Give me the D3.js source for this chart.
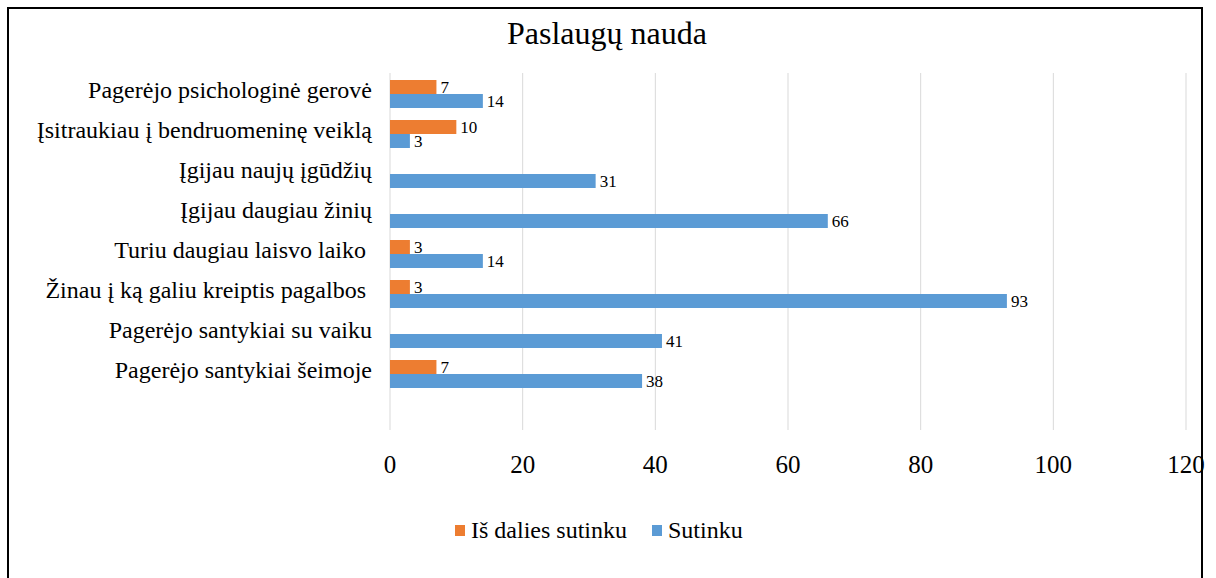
<!DOCTYPE html>
<html>
<head>
<meta charset="utf-8">
<script src="https://cdn.jsdelivr.net/npm/d3@7"></script>
</head>
<body style="margin:0">
<script>
// data
let categories = [
  "Pagerėjo psichologinė gerovė",
  "Įsitraukiau į bendruomeninę veiklą",
  "Įgijau naujų įgūdžių",
  "Įgijau daugiau žinių",
  "Turiu daugiau laisvo laiko ",
  "Žinau į ką galiu kreiptis pagalbos ",
  "Pagerėjo santykiai su vaiku",
  "Pagerėjo santykiai šeimoje"
];
let partlyValues = [7, 10, 0, 0, 3, 3, 0, 7];
let agreeValues = [14, 3, 31, 66, 14, 93, 41, 38];
let seriesNames = ["Iš dalies sutinku", "Sutinku"];
let seriesColors = ["#ED7D31", "#5B9BD5"];
let xTicks = [0, 20, 40, 60, 80, 100, 120];

let w = 1216, h = 578;
let fontName = "'Liberation Serif', 'Times New Roman', Times, serif";

let svg = d3.select("body").append("svg")
  .attr("width", w)
  .attr("height", h)
  .attr("font-family", fontName);

// frame
svg.append("rect")
  .attr("x", 8).attr("y", 8)
  .attr("width", 1194).attr("height", 620)
  .attr("fill", "none")
  .attr("stroke", "#000")
  .attr("stroke-width", 2);

svg.append("text")
  .attr("x", 607).attr("y", 44)
  .attr("text-anchor", "middle")
  .attr("font-family", fontName)
  .attr("font-size", "32px")
  .text("Paslaugų nauda");

let xScale = d3.scaleLinear().domain([0, 120]).range([390, 1186]);
let yScale = d3.scaleBand().domain(categories).range([74, 394])
  .paddingInner(0.3).paddingOuter(0.15);
let subScale = d3.scaleBand().domain([0, 1]).range([0, yScale.bandwidth()]);

// gridlines
svg.append("g")
  .selectAll("line")
  .data(xTicks)
  .enter().append("line")
  .attr("x1", d => xScale(d)).attr("x2", d => xScale(d))
  .attr("y1", 73).attr("y2", 430)
  .attr("stroke", "#d9d9d9")
  .attr("stroke-width", 1);

// x axis labels
svg.append("g")
  .selectAll("text")
  .data(xTicks)
  .enter().append("text")
  .attr("x", d => xScale(d))
  .attr("y", 473)
  .attr("text-anchor", "middle")
  .attr("font-family", fontName)
  .attr("font-size", "25px")
  .text(d => d);

// category labels
svg.append("g")
  .selectAll("text")
  .data(categories)
  .enter().append("text")
  .attr("x", 372)
  .attr("y", d => yScale(d) + yScale.bandwidth() / 2)
  .attr("dy", "0.17em")
  .attr("text-anchor", "end")
  .attr("font-family", fontName)
  .attr("font-size", "24px")
  .style("white-space", "pre")
  .text(d => d);

let rows = categories.map((c, i) => ({ cat: c, vals: [partlyValues[i], agreeValues[i]] }));

let groups = svg.selectAll(".grp")
  .data(rows)
  .enter().append("g")
  .attr("class", "grp")
  .attr("transform", d => "translate(0," + yScale(d.cat) + ")");

let bars = groups.selectAll(".bar")
  .data(d => d.vals.map((v, k) => ({ v: v, k: k })).filter(e => e.v > 0))
  .enter();

bars.append("rect")
  .attr("class", "bar")
  .attr("x", xScale(0))
  .attr("y", d => subScale(d.k))
  .attr("width", d => xScale(d.v) - xScale(0))
  .attr("height", subScale.bandwidth())
  .attr("fill", d => seriesColors[d.k]);

bars.append("text")
  .attr("x", d => xScale(d.v) + 4)
  .attr("y", d => subScale(d.k) + subScale.bandwidth() / 2)
  .attr("dy", "0.35em")
  .attr("font-family", fontName)
  .attr("font-size", "17px")
  .text(d => d.v);

// legend
let legend = svg.append("g").attr("transform", "translate(455,531)");
let lx = [0, 197];
seriesNames.forEach((name, k) => {
  legend.append("rect")
    .attr("x", lx[k]).attr("y", -6)
    .attr("width", 10).attr("height", 11)
    .attr("fill", seriesColors[k]);
  legend.append("text")
    .attr("x", lx[k] + 16).attr("y", 7)
    .attr("font-family", fontName)
    .attr("font-size", "24px")
    .text(name);
});
</script>
</body>
</html>
